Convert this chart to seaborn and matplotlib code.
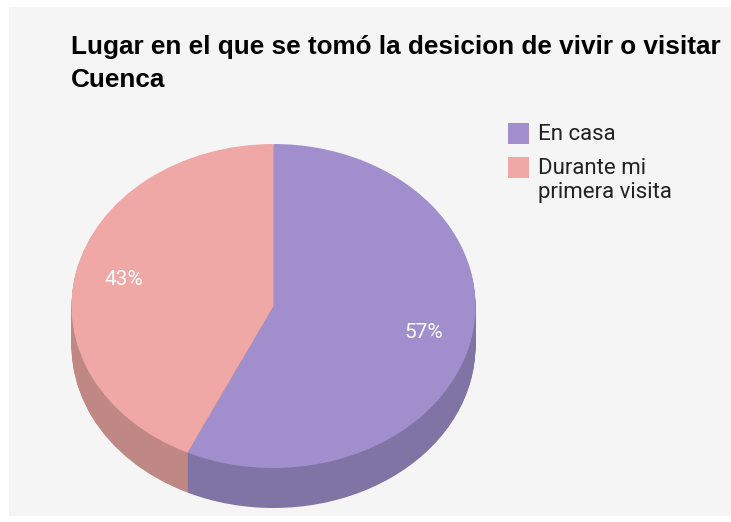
import numpy as np
import matplotlib
matplotlib.use("Agg")
import matplotlib.pyplot as plt
import seaborn as sns
from matplotlib.patches import Rectangle

# data
categories = ["En casa", "Durante mi\nprimera visita"]
shares = [57, 43]
top_colors = ["#a08fcc", "#f0a8a6"]
side_colors = ["#8074a5", "#c08884"]
title = "Lugar en el que se tomó la desicion de vivir o visitar\nCuenca"

sns.set_style("white")
plt.rcParams['font.family'] = ['Liberation Sans', 'DejaVu Sans']

W, H = 731, 522
fig = plt.figure(figsize=(W / 100, H / 100), dpi=100)
fig.patch.set_facecolor("white")


def fx(x):
    return x / W


def fy(y):
    return 1 - y / H


# gray chart area
fig.patches.append(Rectangle((fx(9), fy(516)), (W - 9) / W, (516 - 7) / H,
                             transform=fig.transFigure, facecolor="#f5f5f5",
                             edgecolor="none", zorder=-5))

# pie geometry (pixels)
cx, cy, rx, ry, depth_px = 273.5, 306, 202, 162, 40
ax = fig.add_axes([fx(cx - 1.1 * rx), fy(cy + 1.3 * ry), 2.2 * rx / W, 2.4 * ry / H])
ax.set_facecolor('none')

depth = depth_px / ry
for off in np.linspace(depth, 0, 41)[:-1]:
    ax.pie(shares, colors=side_colors, startangle=90, counterclock=False,
           center=(0, -off), wedgeprops=dict(linewidth=0))

wedges, texts, autotexts = ax.pie(
    shares, colors=top_colors, startangle=90, counterclock=False,
    autopct='%.0f%%', pctdistance=0.76,
    textprops=dict(color='white', fontsize=15, family=['Roboto', 'DejaVu Sans']),
    wedgeprops=dict(linewidth=0))

ax.set_aspect('auto')
ax.set_xlim(-1.1, 1.1)
ax.set_ylim(-1.3, 1.1)
ax.axis('off')

# title
fig.text(fx(71), fy(35), title, ha='left', va='top', fontsize=18.8,
         fontweight='bold', color='black', linespacing=1.45)

# legend
sq_tops = [123, 157]
for lab, col, top in zip(categories, top_colors, sq_tops):
    fig.patches.append(Rectangle((fx(508), fy(top + 21)), 21 / W, 21 / H,
                                 transform=fig.transFigure, facecolor=col,
                                 edgecolor='none', zorder=2))
    fig.text(fx(538), fy(top + 1), lab, ha='left', va='top', fontsize=16,
             color='#222222', linespacing=1.2, family=['Roboto', 'DejaVu Sans'])

fig.savefig("out.png", dpi=100, facecolor=fig.get_facecolor())
